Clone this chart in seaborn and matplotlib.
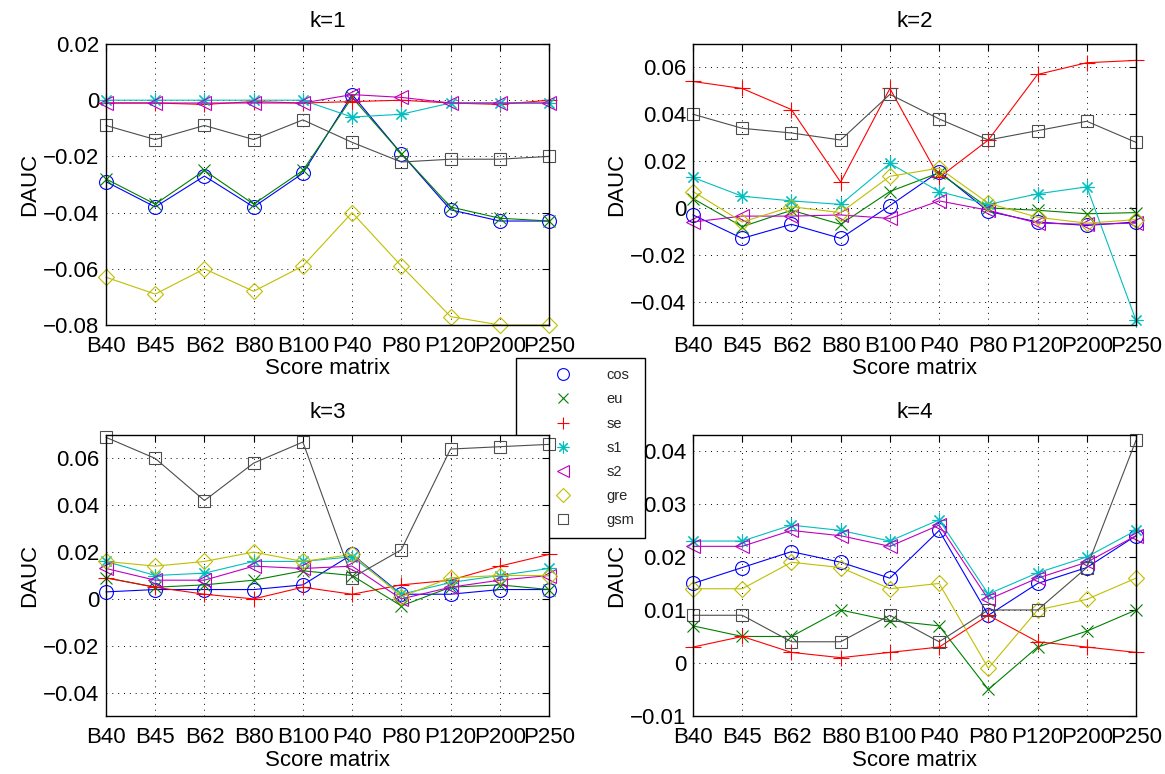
import numpy as np
import pandas as pd
import matplotlib
matplotlib.use("Agg")
import matplotlib.pyplot as plt
from matplotlib.lines import Line2D
from matplotlib.ticker import FuncFormatter, MultipleLocator
import seaborn as sns

# -----------------------------------
# DATA
# -----------------------------------

matrices = ["B40", "B45", "B62", "B80", "B100", "P40", "P80", "P120", "P200", "P250"]
methods = ["cos", "eu", "se", "s1", "s2", "gre", "gsm"]

k1_dauc = {
    "cos": [-0.029, -0.038, -0.027, -0.038, -0.026, 0.002, -0.019, -0.039, -0.043, -0.043],
    "eu":  [-0.028, -0.037, -0.025, -0.037, -0.025, 0.001, -0.019, -0.038, -0.042, -0.043],
    "se":  [-0.001, -0.001, -0.0015, -0.0005, -0.001, -0.0005, 0.0, -0.001, -0.0015, 0.0],
    "s1":  [0.0, 0.0, 0.0, 0.0, 0.0, -0.006, -0.005, -0.001, -0.001, -0.001],
    "s2":  [-0.001, -0.001, -0.001, -0.001, -0.001, 0.002, 0.001, -0.001, -0.001, -0.001],
    "gre": [-0.063, -0.069, -0.060, -0.068, -0.059, -0.040, -0.059, -0.077, -0.080, -0.080],
    "gsm": [-0.009, -0.014, -0.009, -0.014, -0.007, -0.015, -0.022, -0.021, -0.021, -0.020],
}

k2_dauc = {
    "cos": [-0.003, -0.013, -0.007, -0.013, 0.001, 0.0155, -0.0015, -0.006, -0.0075, -0.006],
    "eu":  [0.004, -0.008, -0.001, -0.007, 0.007, 0.015, 0.0, -0.001, -0.0025, -0.002],
    "se":  [0.054, 0.051, 0.042, 0.011, 0.051, 0.013, 0.029, 0.057, 0.062, 0.063],
    "s1":  [0.013, 0.005, 0.003, 0.0015, 0.019, 0.007, 0.0015, 0.006, 0.009, -0.048],
    "s2":  [-0.006, -0.0035, -0.0035, -0.003, -0.0045, 0.003, -0.001, -0.0065, -0.007, -0.0065],
    "gre": [0.007, -0.006, 0.0005, -0.002, 0.0135, 0.017, 0.002, -0.004, -0.0065, -0.005],
    "gsm": [0.040, 0.034, 0.032, 0.029, 0.0485, 0.038, 0.029, 0.033, 0.037, 0.028],
}

k3_dauc = {
    "cos": [0.003, 0.004, 0.004, 0.004, 0.006, 0.019, 0.002, 0.002, 0.004, 0.004],
    "eu":  [0.009, 0.005, 0.006, 0.008, 0.012, 0.010, -0.003, 0.005, 0.006, 0.004],
    "se":  [0.009, 0.005, 0.002, 0.0, 0.005, 0.002, 0.006, 0.008, 0.014, 0.019],
    "s1":  [0.016, 0.010, 0.011, 0.016, 0.016, 0.018, 0.002, 0.007, 0.010, 0.013],
    "s2":  [0.013, 0.008, 0.008, 0.014, 0.013, 0.014, 0.0, 0.005, 0.008, 0.010],
    "gre": [0.016, 0.014, 0.016, 0.020, 0.016, 0.019, 0.001, 0.009, 0.010, 0.010],
    "gsm": [0.069, 0.060, 0.042, 0.058, 0.067, 0.009, 0.021, 0.064, 0.065, 0.066],
}

k4_dauc = {
    "cos": [0.015, 0.018, 0.021, 0.019, 0.016, 0.025, 0.009, 0.015, 0.018, 0.024],
    "eu":  [0.007, 0.005, 0.005, 0.010, 0.008, 0.007, -0.005, 0.003, 0.006, 0.010],
    "se":  [0.003, 0.005, 0.002, 0.001, 0.002, 0.003, 0.009, 0.004, 0.003, 0.002],
    "s1":  [0.023, 0.023, 0.026, 0.025, 0.023, 0.027, 0.013, 0.017, 0.020, 0.025],
    "s2":  [0.022, 0.022, 0.025, 0.024, 0.022, 0.026, 0.012, 0.016, 0.019, 0.024],
    "gre": [0.014, 0.014, 0.019, 0.018, 0.014, 0.015, -0.001, 0.010, 0.012, 0.016],
    "gsm": [0.009, 0.009, 0.004, 0.004, 0.009, 0.004, 0.010, 0.010, 0.018, 0.042],
}

# -----------------------------------
# STYLE
# -----------------------------------

colors = {
    "cos": (0.0, 0.0, 1.0),
    "eu": (0.0, 0.5, 0.0),
    "se": (1.0, 0.0, 0.0),
    "s1": (0.0, 0.75, 0.75),
    "s2": (0.75, 0.0, 0.75),
    "gre": (0.75, 0.75, 0.0),
    "gsm": (0.3, 0.3, 0.3),
}
markers = {"cos": "o", "eu": "x", "se": "+", "s1": (8, 2, 0),
           "s2": "<", "gre": "D", "gsm": "s"}
msizes = {"cos": 10, "eu": 9, "se": 11, "s1": 10, "s2": 10, "gre": 8.5, "gsm": 9}

sns.set_theme(style="white")
plt.rcParams["font.family"] = ["Liberation Sans", "DejaVu Sans"]
plt.rcParams["axes.unicode_minus"] = True

FS = 16


def fmt(v, pos):
    s = "%g" % round(v, 6)
    return s.replace("-", "\u2212")


def draw_panel(ax, data, title, ylim, ystep):
    for m in methods:
        df = pd.DataFrame({"pos": np.arange(len(matrices)), "DAUC": data[m]})
        sns.lineplot(data=df, x="pos", y="DAUC", ax=ax, color=colors[m],
                     marker=markers[m], markersize=msizes[m],
                     markerfacecolor="none", markeredgecolor=colors[m],
                     markeredgewidth=0.8, linewidth=0.8, legend=False,
                     errorbar=None, sort=False, clip_on=False)
    ax.set_xlim(0, len(matrices) - 1)
    ax.set_ylim(*ylim)
    ax.set_xticks(np.arange(len(matrices)))
    ax.set_xticklabels(matrices)
    ax.yaxis.set_major_locator(MultipleLocator(ystep))
    ax.yaxis.set_major_formatter(FuncFormatter(fmt))
    ax.grid(True, color="black", linestyle=(0, (1, 5)), linewidth=0.7)
    ax.tick_params(direction="in", length=5, width=0.8, top=True, right=True,
                   labelsize=FS, colors="black")
    ax.tick_params(axis="x", pad=8)
    ax.tick_params(axis="y", pad=5)
    for sp in ax.spines.values():
        sp.set_color("black")
        sp.set_linewidth(1.0)
    ax.set_title(title, fontsize=FS, pad=12, color="black")
    ax.set_xlabel("Score matrix", fontsize=FS, color="black", labelpad=1)
    ax.set_ylabel("DAUC", fontsize=FS, color="black", labelpad=2)


fig = plt.figure(figsize=(11.65, 7.74), dpi=100)
W, H = 1165.0, 774.0

ax1 = fig.add_axes([106 / W, 1 - 325 / H, 443 / W, 281 / H])
ax2 = fig.add_axes([693 / W, 1 - 325 / H, 443 / W, 281 / H])
ax3 = fig.add_axes([106 / W, 1 - 716 / H, 443 / W, 281 / H])
ax4 = fig.add_axes([693 / W, 1 - 716 / H, 443 / W, 281 / H])

draw_panel(ax1, k1_dauc, "k=1", (-0.08, 0.02), 0.02)
draw_panel(ax2, k2_dauc, "k=2", (-0.05, 0.07), 0.02)
draw_panel(ax3, k3_dauc, "k=3", (-0.05, 0.07), 0.02)
draw_panel(ax4, k4_dauc, "k=4", (-0.01, 0.043), 0.01)

# legend between the panels, partly hidden by k=3
handles = [Line2D([], [], linestyle="none", marker=markers[m], color=colors[m],
                  markerfacecolor="none", markeredgecolor=colors[m],
                  markeredgewidth=0.8, markersize=msizes[m] * 0.85)
           for m in methods]
leg = fig.legend(handles, methods, loc="upper left",
                 bbox_to_anchor=(516 / W, 1 - 358 / H), bbox_transform=fig.transFigure,
                 frameon=True, fancybox=False, edgecolor="black", framealpha=1,
                 fontsize=10.5, borderaxespad=0, borderpad=0.7,
                 labelspacing=0.7, handlelength=5.0, handletextpad=0.5)
leg.get_frame().set_linewidth(1.0)
leg.set_zorder(-1)
ax3.set_zorder(2)

fig.savefig("out.png", dpi=100)
